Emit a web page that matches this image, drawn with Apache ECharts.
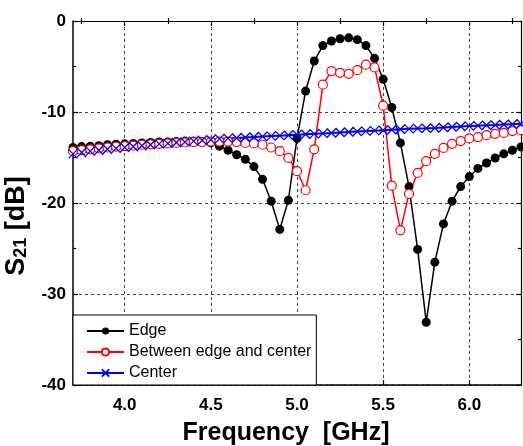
<!DOCTYPE html>
<html>
<head>
<meta charset="utf-8">
<script src="https://cdn.jsdelivr.net/npm/echarts@6/dist/echarts.min.js"></script>
<style>
html, body { margin: 0; padding: 0; background: #fff; }
#chart-s21 { width: 523px; height: 446px; }
</style>
</head>
<body>
<div id="chart-s21"></div>
<script>
// frequency points [GHz]
var freq = [3.70, 3.75, 3.80, 3.85, 3.90, 3.95, 4.00, 4.05, 4.10, 4.15, 4.20, 4.25, 4.30, 4.35,
	4.40, 4.45, 4.50, 4.55, 4.60, 4.65, 4.70, 4.75, 4.80, 4.85, 4.90, 4.95, 5.00, 5.05, 5.10,
	5.15, 5.20, 5.25, 5.30, 5.35, 5.40, 5.45, 5.50, 5.55, 5.60, 5.65, 5.70, 5.75, 5.80, 5.85,
	5.90, 5.95, 6.00, 6.05, 6.10, 6.15, 6.20, 6.25, 6.30];

// S21 [dB]
var edge = [-13.9, -13.8, -13.75, -13.7, -13.6, -13.55, -13.5, -13.45, -13.4, -13.35, -13.3, -13.3, -13.25, -13.2,
	-13.2, -13.25, -13.4, -13.75, -14.2, -14.7, -15.2, -16.0, -17.4, -19.8, -22.9, -19.7, -12.9, -7.7, -4.4,
	-2.7, -2.2, -1.95, -1.85, -2.05, -2.7, -4.1, -6.4, -9.5, -13.4, -18.2, -25.1, -33.1, -26.5, -22.3,
	-19.8, -18.2, -17.1, -16.2, -15.6, -15.05, -14.6, -14.2, -13.85];
var between = [-14.3, -14.2, -14.1, -14.0, -13.9, -13.8, -13.75, -13.7, -13.6, -13.55, -13.5, -13.45, -13.4, -13.35,
	-13.3, -13.3, -13.25, -13.25, -13.25, -13.3, -13.4, -13.45, -13.6, -13.9, -14.3, -15.05, -16.5, -18.6, -14.1,
	-7.0, -5.5, -5.7, -5.8, -5.4, -4.8, -5.1, -9.3, -18.1, -23.0, -19.0, -16.7, -15.4, -14.6, -13.95,
	-13.5, -13.2, -12.9, -12.75, -12.55, -12.4, -12.3, -12.1, -12.0];
var center = [-14.6, -14.45, -14.3, -14.2, -14.1, -14.0, -13.9, -13.8, -13.7, -13.6, -13.5, -13.45, -13.35, -13.3,
	-13.2, -13.1, -13.05, -12.95, -12.9, -12.85, -12.8, -12.75, -12.7, -12.65, -12.6, -12.55, -12.5, -12.45, -12.4,
	-12.35, -12.3, -12.25, -12.2, -12.15, -12.1, -12.05, -12.0, -11.95, -11.9, -11.85, -11.8, -11.78, -11.75, -11.7,
	-11.65, -11.6, -11.55, -11.5, -11.45, -11.42, -11.38, -11.34, -11.3];

var xMajor = [4.0, 4.5, 5.0, 5.5, 6.0];
var xMinor = [3.75, 4.25, 4.75, 5.25, 5.75, 6.25];

function pairs(vals) {
	return freq.map(function (f, i) { return [f, vals[i]]; });
}

var font = 'Liberation Sans, Arial, sans-serif';
var myChart = echarts.init(document.getElementById('chart-s21'));

var xBase = {
	type: 'value',
	min: 3.7,
	max: 6.3,
	splitNumber: 5
};

var option = {
	animation: false,
	grid: { left: 73, right: 2, top: 21, bottom: 61, containLabel: false, outerBoundsMode: 'none' },
	legend: {
		orient: 'vertical',
		left: 73,
		top: 315,
		data: ['Edge', 'Between edge and center', 'Center'],
		itemWidth: 37,
		itemHeight: 9,
		itemGap: 5,
		padding: [8, 5, 4, 13],
		backgroundColor: '#fff',
		borderColor: '#000',
		borderWidth: 1,
		borderRadius: 0,
		textStyle: { fontFamily: font, fontSize: 16, color: '#000', lineHeight: 16 }
	},
	xAxis: [
		Object.assign({}, xBase, {
			position: 'bottom',
			name: 'Frequency  [GHz]',
			nameLocation: 'middle',
			nameGap: 36,
			nameTextStyle: { fontFamily: font, fontSize: 25, fontWeight: 'bold', color: '#000', padding: [0, 22, 0, 0] },
			axisLine: { show: true, onZero: false, lineStyle: { color: '#000', width: 1.5 } },
			axisTick: { show: true, inside: true, length: 5, customValues: xMajor, lineStyle: { color: '#000', width: 1.2 } },
			axisLabel: { customValues: xMajor, margin: 12, fontFamily: font, fontSize: 17, fontWeight: 'bold', color: '#000',
				formatter: function (v) { return v.toFixed(1); } },
			splitLine: { show: true, lineStyle: { color: '#444', type: [3, 3], width: 1 } }
		}),
		Object.assign({}, xBase, {
			position: 'bottom',
			axisLine: { show: false },
			axisTick: { show: true, inside: true, length: 3, customValues: xMinor, lineStyle: { color: '#000', width: 1.2 } },
			axisLabel: { show: false },
			splitLine: { show: false }
		}),
		Object.assign({}, xBase, {
			position: 'top',
			axisLine: { show: true, onZero: false, lineStyle: { color: '#000', width: 1.2 } },
			axisTick: { show: true, inside: true, length: 5, customValues: xMajor, lineStyle: { color: '#000', width: 1.2 } },
			axisLabel: { show: false },
			splitLine: { show: false }
		}),
		Object.assign({}, xBase, {
			position: 'top',
			axisLine: { show: false },
			axisTick: { show: true, inside: true, length: 3, customValues: xMinor, lineStyle: { color: '#000', width: 1.2 } },
			axisLabel: { show: false },
			splitLine: { show: false }
		})
	],
	yAxis: [
		{
			type: 'value',
			position: 'left',
			min: -40,
			max: 0,
			interval: 10,
			name: '{s|S}{sub|21}{s| [dB]}',
			nameLocation: 'middle',
			nameRotate: 90,
			nameGap: 40,
			nameTextStyle: {
				padding: [0, 46, 0, 0],
				rich: {
					s: { fontFamily: font, fontSize: 27, fontWeight: 'bold', color: '#000' },
					sub: { fontFamily: font, fontSize: 18, fontWeight: 'bold', color: '#000', padding: [9, 0, 0, 0] }
				}
			},
			axisLine: { show: true, onZero: false, lineStyle: { color: '#000', width: 1.5 } },
			axisTick: { show: true, inside: true, length: 5, lineStyle: { color: '#000', width: 1.2 } },
			minorTick: { show: true, splitNumber: 2, length: 3, lineStyle: { color: '#000', width: 1.2 } },
			axisLabel: { margin: 7, fontFamily: font, fontSize: 17, fontWeight: 'bold', color: '#000' },
			splitLine: { show: true, lineStyle: { color: '#444', type: [3, 3], width: 1 } }
		},
		{
			type: 'value',
			position: 'right',
			min: -40,
			max: 0,
			interval: 10,
			axisLine: { show: true, onZero: false, lineStyle: { color: '#000', width: 1.2 } },
			axisTick: { show: true, inside: true, length: 5, lineStyle: { color: '#000', width: 1.2 } },
			minorTick: { show: true, splitNumber: 2, length: 3, lineStyle: { color: '#000', width: 1.2 } },
			axisLabel: { show: false },
			splitLine: { show: false }
		}
	],
	series: [
		{
			name: 'Edge',
			type: 'line',
			data: pairs(edge),
			symbol: 'circle',
			symbolSize: 9,
			itemStyle: { color: '#000' },
			lineStyle: { color: '#000', width: 1.5 }
		},
		{
			name: 'Between edge and center',
			type: 'line',
			data: pairs(between),
			symbol: 'circle',
			symbolSize: 9,
			itemStyle: { color: '#fff', borderColor: '#ff0000', borderWidth: 1.2 },
			lineStyle: { color: '#ff0000', width: 1.5 }
		},
		{
			name: 'Center',
			type: 'line',
			data: pairs(center),
			symbol: 'path://M0,0L10,10M10,0L0,10',
			symbolSize: 9,
			itemStyle: { color: '#0000ff', borderColor: '#0000ff', borderWidth: 1.3 },
			lineStyle: { color: '#0000ff', width: 2 }
		}
	]
};

myChart.setOption(option);
window.addEventListener('resize', function () {
	myChart.resize();
});
</script>
</body>
</html>
